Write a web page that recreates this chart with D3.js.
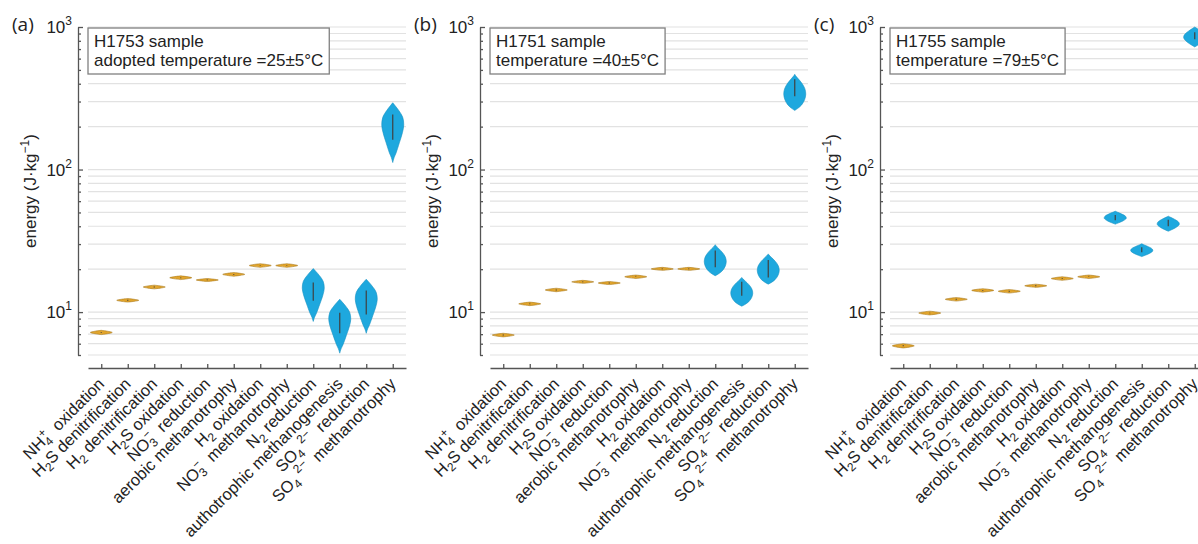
<!DOCTYPE html>
<html>
<head>
	<meta charset="utf-8">
	<script type="text/javascript" src="https://cdn.jsdelivr.net/npm/d3@7/dist/d3.min.js"></script>
	<style>
		body { margin: 0; background: #fff; }
		text { font-family: "Liberation Sans", Arial, sans-serif; fill: #222; }
	</style>
</head>
<body>
	<script type="text/javascript">

		// process names (scale domain)
		var processes = ["NH4+ oxidation", "H2S denitrification", "H2 denitrification", "H2S oxidation",
			"NO3- reduction", "aerobic methanotrophy", "H2 oxidation", "NO3- methanotrophy",
			"N2 reduction", "authotrophic methanogenesis", "SO42- reduction", "SO42- methanotrophy"];

		// tick label pieces: [text, kind]  kind: "" normal, "sub", "sup" (after sub, stacked), "sup2"
		var processLabels = [
			[["NH", ""], ["4", "sub"], ["+", "sup"], ["\u00a0 oxidation", ""]],
			[["H", ""], ["2", "sub"], ["S denitrification", ""]],
			[["H", ""], ["2", "sub"], [" denitrification", ""]],
			[["H", ""], ["2", "sub"], ["S oxidation", ""]],
			[["NO", ""], ["3", "sub"], ["\u2212", "sup"], ["\u00a0 reduction", ""]],
			[["aerobic methanotrophy", ""]],
			[["H", ""], ["2", "sub"], [" oxidation", ""]],
			[["NO", ""], ["3", "sub"], ["\u2212", "sup"], ["\u00a0 methanotrophy", ""]],
			[["N", ""], ["2", "sub"], [" reduction", ""]],
			[["authotrophic methanogenesis", ""]],
			[["SO", ""], ["4", "sub"], ["\u00a02\u2212", "sup2"], ["\u00a0 reduction", ""]],
			[["SO", ""], ["4", "sub"], ["\u00a02\u2212", "sup2"], ["\u00a0 methanotrophy", ""]]
		];

		// 1 = blue violin, 0 = orange violin
		var highlighted = [0, 0, 0, 0, 0, 0, 0, 0, 1, 1, 1, 1];

		// energy (J/kg) per process: [min, q1, q3, max]
		var energyA = [
			[6.95, 7.15, 7.25, 7.45], [11.75, 12.0, 12.2, 12.45], [14.55, 14.9, 15.1, 15.45], [16.9, 17.3, 17.5, 17.95],
			[16.4, 16.7, 16.9, 17.2], [17.85, 18.3, 18.5, 18.95], [20.6, 21.1, 21.3, 21.85], [20.6, 21.1, 21.3, 21.85],
			[8.6, 12.0, 16.1, 20.2], [5.15, 7.1, 9.9, 12.3], [7.1, 9.6, 14.2, 17.0], [112, 162, 243, 294]
		];
		var energyB = [
			[6.7, 6.85, 6.95, 7.1], [11.1, 11.35, 11.5, 11.75], [13.9, 14.2, 14.4, 14.7], [15.9, 16.2, 16.4, 16.7],
			[15.6, 15.9, 16.1, 16.4], [17.2, 17.6, 17.8, 18.2], [19.6, 20.0, 20.2, 20.6], [19.6, 20.0, 20.2, 20.6],
			[18.0, 20.6, 27.0, 29.7], [11.0, 13.0, 16.3, 17.5], [15.7, 17.5, 23.2, 25.6], [260, 327, 430, 466]
		];
		var energyC = [
			[5.6, 5.75, 5.85, 6.0], [9.55, 9.8, 9.9, 10.15], [11.95, 12.2, 12.4, 12.65], [13.8, 14.1, 14.3, 14.6],
			[13.6, 13.9, 14.1, 14.4], [14.9, 15.2, 15.4, 15.7], [16.7, 17.1, 17.3, 17.7], [17.2, 17.6, 17.8, 18.2],
			[41.4, 44.0, 48.0, 51.0], [24.5, 26.3, 28.5, 30.1], [36.9, 40.0, 44.5, 47.1], [725, 820, 920, 1000]
		];

		// violin outlines: [position from min (0) to max (1), relative width]
		var shapeFlat = [[0, 0], [0.2, 0.55], [0.5, 1], [0.8, 0.55], [1, 0]];
		var shapeA = [[0, 0], [0.08, 0.12], [0.16, 0.3], [0.33, 0.6], [0.5, 0.88], [0.63, 1], [0.76, 0.9], [0.87, 0.55], [0.95, 0.22], [1, 0]];
		var shapeB = [[0, 0], [0.05, 0.25], [0.15, 0.62], [0.3, 0.9], [0.45, 1], [0.6, 0.92], [0.75, 0.65], [0.88, 0.3], [0.96, 0.08], [1, 0]];
		var shapeC = [[0, 0], [0.1, 0.3], [0.25, 0.7], [0.45, 1], [0.6, 0.95], [0.78, 0.6], [0.92, 0.22], [1, 0]];

		var panelTags = ["(a)", "(b)", "(c)"];
		var sampleNotes = [
			["H1753 sample", "adopted temperature =25\u00b15\u00b0C"],
			["H1751 sample", "temperature =40\u00b15\u00b0C"],
			["H1755 sample", "temperature =79\u00b15\u00b0C"]
		];
		var majorTicks = [10, 100, 1000];
		var majorExp = ["1", "2", "3"];

		var panels = [
			{ data: energyA, shape: shapeA, ox: 0 },
			{ data: energyB, shape: shapeB, ox: 402 },
			{ data: energyC, shape: shapeC, ox: 802 }
		];

		var svg = d3.select('body')
			.append('svg')
			.attr('width', 1198)
			.attr('height', 544);

		var yScale = d3.scaleLog()
			.domain([5, 1000])
			.range([355, 27]);

		var wScale = d3.scaleLinear()
			.domain([0, 1])
			.range([0, 11]);

		var minorTicks = yScale.ticks().filter(function(v) {
			return majorTicks.indexOf(v) < 0;
		});

		panels.forEach(function(p, k) {
			var axisX = 78 + p.ox;
			var g = svg.append('g');

			var xScale = d3.scalePoint()
				.domain(processes)
				.range([axisX + 10, axisX + 328])
				.padding(0.5);

			// grid
			g.selectAll('line.grid')
				.data(yScale.ticks())
				.enter()
				.append('line')
				.attr('class', 'grid')
				.attr('x1', axisX + 10)
				.attr('x2', axisX + 328)
				.attr('y1', function(d) { return yScale(d); })
				.attr('y2', function(d) { return yScale(d); })
				.attr('stroke', '#e2e2e2')
				.attr('stroke-width', 1.2);

			// text box
			var box = g.append('g');
			var rect = box.append('rect');
			var tw = 0;
			sampleNotes[k].forEach(function(line, j) {
				var t = box.append('text')
					.attr('x', axisX + 16)
					.attr('y', 46.5 + j * 19)
					.style('font-size', '17px')
					.text(line);
				tw = Math.max(tw, t.node().getComputedTextLength());
			});
			rect.attr('x', axisX + 10)
				.attr('y', 28)
				.attr('width', tw + 12)
				.attr('height', 46)
				.attr('fill', '#fff')
				.attr('stroke', '#808080')
				.attr('stroke-width', 1.3);

			// violins
			var area = d3.area()
				.curve(d3.curveCatmullRom)
				.y(function(d) { return d.y; })
				.x0(function(d) { return d.cx - wScale(d.w); })
				.x1(function(d) { return d.cx + wScale(d.w); });

			p.data.forEach(function(row, i) {
				var cx = xScale(processes[i]);
				var shape = highlighted[i] ? p.shape : shapeFlat;
				var yi = d3.interpolateNumber(yScale(row[0]), yScale(row[3]));
				var pts = shape.map(function(s) {
					return { y: yi(s[0]), w: s[1], cx: cx };
				});
				g.append('path')
					.attr('d', area(pts))
					.attr('fill', highlighted[i] ? '#1ea8de' : '#e2a52c')
					.attr('stroke', highlighted[i] ? '#1892c2' : '#a8781c')
					.attr('stroke-width', 0.6);
				g.append('line')
					.attr('x1', cx)
					.attr('x2', cx)
					.attr('y1', yScale(row[1]))
					.attr('y2', yScale(row[2]))
					.attr('stroke', '#404040')
					.attr('stroke-width', 1.2);
			});

			// axes
			var yMinor = g.append('g')
				.attr('transform', 'translate(' + axisX + ',0)')
				.call(d3.axisLeft(yScale).tickValues(minorTicks).tickSizeInner(-3).tickSizeOuter(0).tickFormat(''));
			var yMajor = g.append('g')
				.attr('transform', 'translate(' + axisX + ',0)')
				.call(d3.axisLeft(yScale).tickValues(majorTicks).tickSizeInner(-5).tickSizeOuter(0).tickFormat(''));
			yMajor.select('.domain').remove();

			var xAxis = g.append('g')
				.attr('transform', 'translate(0,368)')
				.call(d3.axisBottom(xScale).tickSizeInner(-4).tickSizeOuter(0).tickFormat(''));

			g.selectAll('.domain, .tick line')
				.attr('stroke', '#555')
				.attr('stroke-width', 1.3);

			// y tick labels 10^n
			majorTicks.forEach(function(v, j) {
				var t = g.append('text')
					.attr('x', axisX - 6)
					.attr('y', yScale(v) + 6)
					.attr('text-anchor', 'end')
					.style('font-size', '17px');
				t.append('tspan').text('10');
				t.append('tspan')
					.attr('dy', -8)
					.style('font-size', '12px')
					.text(majorExp[j]);
			});

			// y label
			var yl = g.append('text')
				.attr('transform', 'translate(' + (36 + p.ox) + ',191) rotate(-90)')
				.attr('text-anchor', 'middle')
				.style('font-size', '17px');
			yl.append('tspan').text('energy (J\u00b7kg');
			yl.append('tspan').attr('dy', -7).style('font-size', '12px').text('\u22121');
			yl.append('tspan').attr('dy', 7).text(')');

			// panel tag
			g.append('text')
				.attr('x', 12 + p.ox)
				.attr('y', 31)
				.style('font-family', '"Open Sans", sans-serif')
				.style('font-size', '19px')
				.text(panelTags[k]);

			// x tick labels
			processLabels.forEach(function(parts, i) {
				var t = g.append('text')
					.attr('transform', 'translate(' + (xScale(processes[i]) + 4) + ',385) rotate(-45)')
					.attr('text-anchor', 'end')
					.style('font-size', '16.5px');
				var shift = 0;
				parts.forEach(function(s) {
					var ts = t.append('tspan').text(s[0]);
					var target = 0;
					if (s[1] === 'sub') {
						target = 4;
						ts.style('font-size', '12px');
					} else if (s[1] === 'sup') {
						target = -7;
						ts.style('font-size', '12px').attr('dx', -6);
					} else if (s[1] === 'sup2') {
						target = -7;
						ts.style('font-size', '12px');
					}
					ts.attr('dy', target - shift);
					shift = target;
				});
			});
		});

	</script>
</body>
</html>
